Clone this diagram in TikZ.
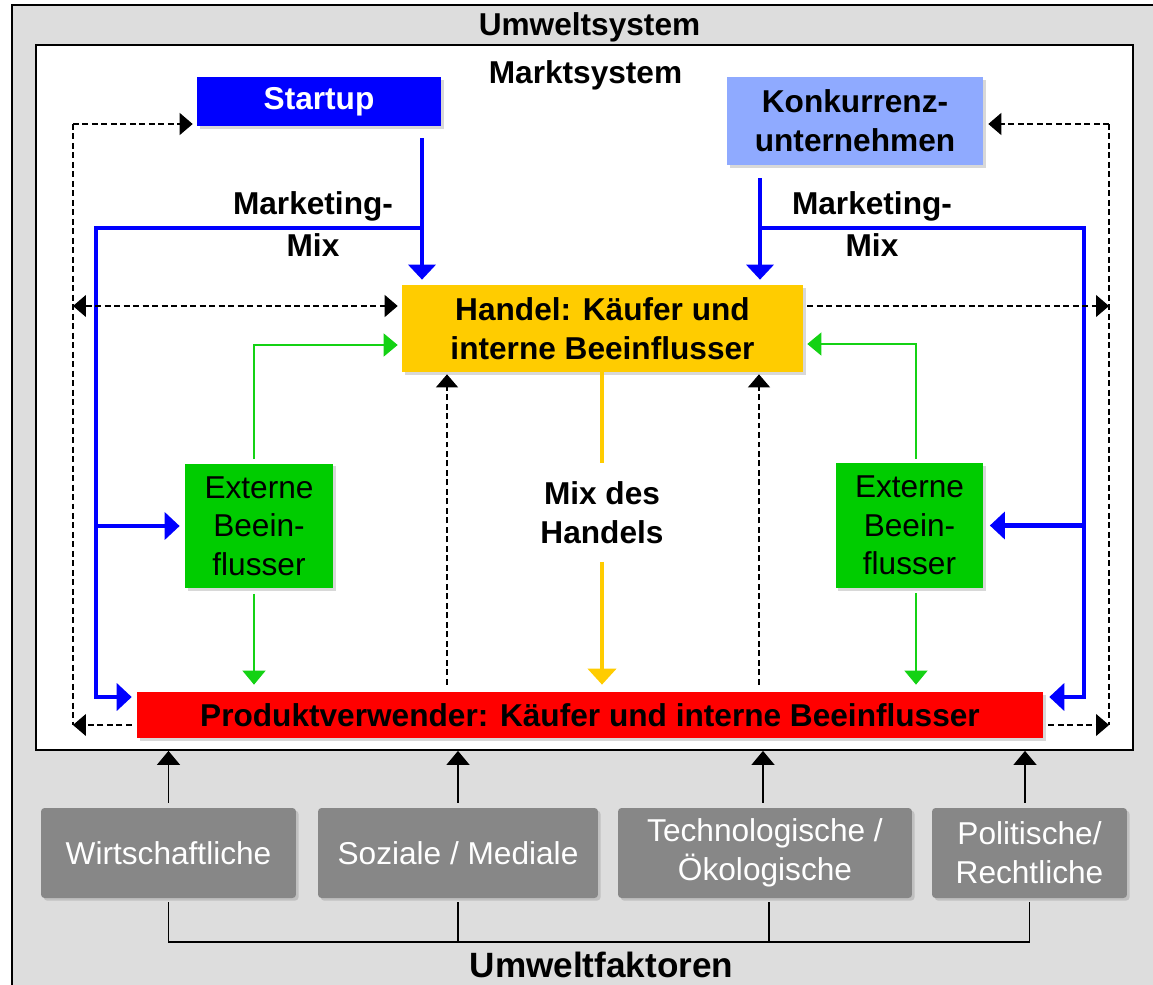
\documentclass[tikz,border=0pt]{standalone}
\usepackage{fontspec}
\setmainfont{Liberation Sans}
\usetikzlibrary{arrows.meta,shadows}

\definecolor{umweltgrau}{RGB}{221,221,221}
\definecolor{startblau}{RGB}{0,0,255}
\definecolor{konkblau}{RGB}{143,170,255}
\definecolor{handelgelb}{RGB}{255,204,0}
\definecolor{extgruen}{RGB}{0,204,0}
\definecolor{pfeilgruen}{RGB}{20,210,20}
\definecolor{faktorgrau}{RGB}{135,135,135}

\tikzstyle{kasten}=[draw=none, inner sep=0pt, align=center, font=\fontsize{18}{22}\selectfont\bfseries, drop shadow={shadow xshift=1.5pt, shadow yshift=-1.5pt, opacity=0.3}]
\tikzstyle{extern}=[kasten, fill=extgruen, font=\fontsize{18}{22}\selectfont, minimum width=2.96cm, minimum height=2.5cm]
\tikzstyle{faktor}=[kasten, fill=faktorgrau, text=white, rounded corners=2pt, font=\fontsize{18}{22}\selectfont, minimum height=1.8cm]
\tikzstyle{titel}=[inner sep=0pt, align=center, font=\fontsize{18}{22}\selectfont\bfseries]
\tikzstyle{mixpfeil}=[startblau, line width=2.3pt, -{Triangle[width=0.54cm,length=0.3cm]}]
\tikzstyle{strichlinie}=[dash pattern=on 3.4pt off 2pt, line width=0.6pt]
\tikzstyle{strich}=[strichlinie, -{Triangle[width=0.44cm,length=0.26cm]}]
\tikzstyle{gruen}=[pfeilgruen, line width=0.7pt, -{Triangle[width=0.46cm,length=0.28cm]}]
\tikzstyle{goldlinie}=[handelgelb, line width=2.8pt]
\tikzstyle{faktorpfeil}=[line width=0.7pt, -{Triangle[width=0.46cm,length=0.28cm]}]
\tikzstyle{klammerlinie}=[line width=1pt]

\begin{document}
\begin{tikzpicture}[x=0.02cm, y=-0.02cm]

\useasboundingbox (0,0) rectangle (1153,984);

% Umweltsystem und Marktsystem
\draw[fill=umweltgrau, line width=1.1pt] (12,5) rectangle (1200,1030);
\node[draw, fill=white, line width=1.1pt, inner sep=0pt, minimum width=21.94cm, minimum height=14.1cm] (markt) at (584.5,397.5) {};
\node[titel, anchor=base] (umweltsystem) at (589.5,35) {Umweltsystem};
\node[titel, anchor=base] (marktsystem) at (585.5,83) {Marktsystem};

\node[kasten, fill=startblau, text=white, minimum width=4.88cm, minimum height=0.98cm] (startup) at (319,101.5) {Startup};
\node[kasten, fill=konkblau, minimum width=5.12cm, minimum height=1.76cm] (konkurrenz) at (855,121) {Konkurrenz-\\unternehmen};
\node[kasten, fill=handelgelb, minimum width=8.02cm, minimum height=1.74cm] (handel) at (602.5,328.5) {Handel: Käufer und\\interne Beeinflusser};
\node[extern] (externl) at (259,526) {Externe\\Beein-\\flusser};
\node[extern] (externr) at (909.5,525.5) {Externe\\Beein-\\flusser};
\node[kasten, fill=red, minimum width=18.12cm, minimum height=0.92cm] (produkt) at (590,715) {Produktverwender: Käufer und interne Beeinflusser};

\node[titel] (mixl) at (313,224) {Marketing-\\[2pt]Mix};
\node[titel] (mixr) at (872,224) {Marketing-\\[2pt]Mix};
\node[titel, inner ysep=0.36cm] (mixhandel) at (602,512.5) {Mix des\\Handels};

% Umweltfaktoren
\node[faktor, minimum width=5.1cm] (wirt) at (168.5,853) {Wirtschaftliche};
\node[faktor, minimum width=5.6cm] (soz) at (458,853) {Soziale / Mediale};
\node[faktor, minimum width=5.88cm] (tech) at (765,853) {Technologische /\\Ökologische};
\node[faktor, minimum width=3.9cm] (pol) at (1029.5,853) {Politische/\\Rechtliche};
\node[titel, anchor=base, font=\fontsize{20}{24}\selectfont\bfseries] (umweltfaktoren) at (601.5,977) {Umweltfaktoren};

% Marketing-Mix
\coordinate (mixlk) at (422,228);
\coordinate (links) at (96,697);
\coordinate (mixrk) at (760,228);
\coordinate (rechts) at (1084,697);

\draw[mixpfeil, shorten <=0.24cm, shorten >=0.1cm] (startup.south -| mixlk) -- (handel.north -| mixlk);
\draw[mixpfeil, shorten >=0.1cm] (mixlk) -| (links) -- (produkt.west |- links);
\draw[mixpfeil, shorten >=0.1cm] (links |- externl) -- (externl.west);

\draw[mixpfeil, shorten <=0.26cm, shorten >=0.1cm] (konkurrenz.south -| mixrk) -- (handel.north -| mixrk);
\draw[mixpfeil, shorten >=0.12cm] (mixrk) -| (rechts) -- (produkt.east |- rechts);
\draw[mixpfeil, shorten >=0.12cm] (rechts |- externr) -- (externr.east);

% gestrichelte Rueckkopplung
\coordinate (dlo) at (73,124);
\coordinate (dlm) at (73,306);
\coordinate (dlu) at (73,725);
\coordinate (dro) at (1109,124);
\coordinate (drm) at (1109,306);
\coordinate (dru) at (1109,725);
\coordinate (dvl) at (447,0);
\coordinate (dvr) at (759,0);

\draw[strichlinie] (dlo) -- (dlu);
\draw[strich, shorten >=0.08cm] (dlo) -- (startup.west |- dlo);
\draw[strich, {Triangle[width=0.44cm,length=0.26cm]}-{Triangle[width=0.44cm,length=0.26cm]}, shorten >=0.08cm] (dlm) -- (handel.west |- dlm);
\draw[strich, shorten <=0.1cm] (produkt.west |- dlu) -- (dlu);

\draw[strichlinie] (dro) -- (dru);
\draw[strich, shorten >=0.1cm] (dro) -- (konkurrenz.east |- dro);
\draw[strich, shorten <=0.08cm] (handel.east |- drm) -- (drm);
\draw[strich, shorten <=0.1cm] (produkt.east |- dru) -- (dru);

\foreach \d in {dvl,dvr}{
  \draw[strich, shorten <=0.14cm, shorten >=0.04cm] (produkt.north -| \d) -- (handel.south -| \d);
}

% externe Beeinflusser
\coordinate (gl) at (254,345);
\coordinate (gr) at (916,344);
\draw[gruen, shorten <=0.08cm, shorten >=0.08cm] (externl.north -| gl) |- (handel.west |- gl);
\draw[gruen, shorten <=0.1cm, shorten >=0.14cm] (externl.south -| gl) -- (produkt.north -| gl);
\draw[gruen, shorten <=0.08cm, shorten >=0.08cm] (externr.north -| gr) |- (handel.east |- gr);
\draw[gruen, shorten <=0.1cm, shorten >=0.14cm] (externr.south -| gr) -- (produkt.north -| gr);

% Mix des Handels
\draw[goldlinie] (handel.south -| mixhandel) -- (mixhandel);
\draw[goldlinie, -{Triangle[width=0.56cm,length=0.32cm]}, shorten >=0.14cm] (mixhandel) -- (produkt.north -| mixhandel);

% Umweltfaktoren wirken auf das Marktsystem
\foreach \f/\dx in {wirt/0,soz/0,tech/-0.04,pol/-0.09}{
  \draw[faktorpfeil, shorten <=0.1cm] ([xshift=\dx cm]\f.north) -- ([xshift=\dx cm]\f.north |- markt.south);
}
\coordinate (klammer) at (600,942);
\draw[klammerlinie, shorten <=0.08cm, shorten >=0.08cm] (wirt.south) |- (klammer) -| (pol.south);
\foreach \f/\dx in {soz/0,tech/0.08}{
  \draw[klammerlinie, shorten <=0.08cm] ([xshift=\dx cm]\f.south) -- ([xshift=\dx cm]\f.south |- klammer);
}

\end{tikzpicture}
\end{document}
